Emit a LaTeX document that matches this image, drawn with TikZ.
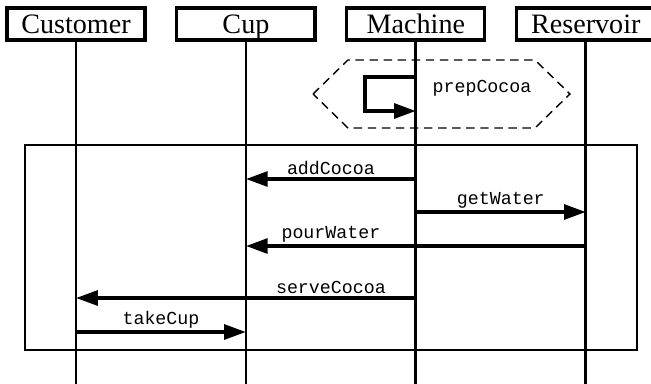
\documentclass[tikz,border=0pt]{standalone}
\usepackage{fontspec}
\setmainfont{Liberation Serif}
\setmonofont{Liberation Mono}
\usetikzlibrary{arrows.meta,positioning}
\tikzset{
    actor/.style={draw, line width=2.2pt, minimum width=3.45cm, minimum height=0.8cm,
        inner sep=0pt, text height=17pt, text depth=3pt, font=\fontsize{20}{22}\selectfont},
    lifeline/.style={line width=2pt},
    msg/.style={line width=2.6pt, -{Triangle[length=15.5pt,width=10.5pt]}},
    msglabel/.style={above, inner sep=1.5pt, font=\ttfamily\fontsize{13}{14}\selectfont},
    frag/.style={dashed, line width=1pt, dash pattern=on 6pt off 4pt},
}

\begin{document}
\begin{tikzpicture}[x=0.025cm, y=-0.025cm]
\clip (0,0) rectangle (651,383);
\node[actor] (customer) at (76,24) {Customer};
\node[actor, right=0.72cm of customer] (cup) {Cup};
\node[actor, right=0.72cm of cup] (machine) {Machine};
\node[actor, right=0.72cm of machine] (reservoir) {Reservoir};
\foreach \who in {customer,cup,machine,reservoir}
    \draw[lifeline] (\who.south) -- (\who |- 0,390);

% self call
\draw[frag] (313,94) -- (348,60) -- (535,60) -- (570,94) -- (535,128) -- (348,128) -- cycle;
\draw[msg] (machine |- 0,77) -| (365,111) -- (machine |- 0,111);
\node[font=\ttfamily\fontsize{13}{14}\selectfont] (prep) at (482,88) {prepCocoa};

\draw[line width=0.8pt] (25,145) rectangle (637,350);
\draw[msg] (machine |- 0,179) -- node[msglabel]{addCocoa} (cup |- 0,179);
\draw[msg] (machine |- 0,212) -- node[msglabel]{getWater} (reservoir |- 0,212);
\draw[msg] (reservoir |- 0,246) -- node[msglabel, pos=0.75]{pourWater} (cup |- 0,246);
\draw[msg] (machine |- 0,298) -- node[msglabel, pos=0.25]{serveCocoa} (customer |- 0,298);
\draw[msg] (customer |- 0,332) -- node[msglabel]{takeCup} (cup |- 0,332);
\end{tikzpicture}
\end{document}
